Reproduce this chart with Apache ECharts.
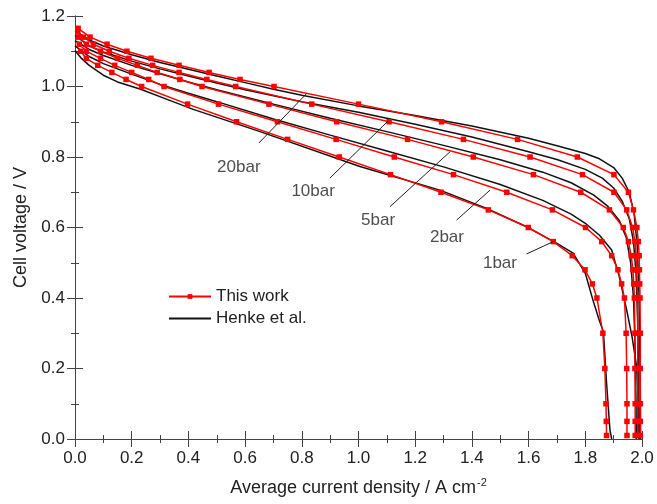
<!DOCTYPE html>
<html>
<head>
<meta charset="utf-8">
<script src="https://cdn.jsdelivr.net/npm/echarts@6/dist/echarts.min.js"></script>
<style>
html,body{margin:0;padding:0;background:#fff;}
#chart{width:657px;height:504px;}
</style>
</head>
<body>
<div id="chart"></div>
<script>
// ---- Data: [current density (A cm^-2), cell voltage (V)] ----
// This work (model, red with markers)
const work20bar = [[0.011,1.165],[0.053,1.14],[0.113,1.12],[0.183,1.10],[0.268,1.08],[0.367,1.06],[0.473,1.04],[0.582,1.02],[0.702,1.00],[1.000,0.95],[1.293,0.90],[1.561,0.85],[1.772,0.80],[1.901,0.75],[1.952,0.70],[1.970,0.65],[1.982,0.60],[1.987,0.56],[1.990,0.52],[1.991,0.48],[1.992,0.44],[1.993,0.40],[1.994,0.30],[1.994,0.20],[1.994,0.10],[1.994,0.05],[1.994,0.01]];
const work10bar = [[0.010,1.155],[0.030,1.14],[0.065,1.12],[0.121,1.10],[0.190,1.08],[0.274,1.06],[0.367,1.04],[0.465,1.02],[0.567,1.00],[0.835,0.95],[1.108,0.90],[1.370,0.85],[1.605,0.80],[1.790,0.75],[1.901,0.70],[1.946,0.65],[1.967,0.60],[1.975,0.56],[1.979,0.52],[1.981,0.48],[1.983,0.44],[1.984,0.40],[1.985,0.30],[1.985,0.20],[1.985,0.10],[1.985,0.05],[1.985,0.01]];
const work5bar = [[0.012,1.14],[0.040,1.12],[0.090,1.10],[0.150,1.08],[0.220,1.06],[0.290,1.04],[0.370,1.02],[0.448,1.00],[0.684,0.95],[0.923,0.90],[1.173,0.85],[1.405,0.80],[1.617,0.75],[1.784,0.70],[1.885,0.65],[1.934,0.60],[1.952,0.56],[1.962,0.52],[1.968,0.48],[1.971,0.44],[1.973,0.40],[1.975,0.30],[1.975,0.20],[1.976,0.10],[1.976,0.05],[1.976,0.01]];
const work2bar = [[0.015,1.12],[0.040,1.10],[0.090,1.08],[0.140,1.06],[0.200,1.04],[0.260,1.02],[0.314,1.00],[0.506,0.95],[0.714,0.90],[0.921,0.85],[1.126,0.80],[1.335,0.75],[1.523,0.70],[1.684,0.65],[1.801,0.60],[1.858,0.56],[1.893,0.52],[1.915,0.48],[1.928,0.44],[1.938,0.40],[1.944,0.30],[1.946,0.20],[1.947,0.10],[1.947,0.05],[1.947,0.01]];
const work1bar = [[0.020,1.10],[0.040,1.08],[0.080,1.06],[0.130,1.04],[0.180,1.02],[0.235,1.00],[0.397,0.95],[0.570,0.90],[0.750,0.85],[0.932,0.80],[1.113,0.75],[1.291,0.70],[1.458,0.65],[1.599,0.60],[1.687,0.56],[1.754,0.52],[1.799,0.48],[1.825,0.44],[1.841,0.40],[1.862,0.30],[1.869,0.20],[1.873,0.10],[1.874,0.05],[1.875,0.01]];

// Henke et al. (black lines)
const henke20bar = [[0.0,1.158],[0.05,1.132],[0.1,1.115],[0.2,1.090],[0.3,1.068],[0.4,1.049],[0.5,1.030],[0.6,1.011],[0.7,0.992],[0.8,0.975],[1.0,0.945],[1.2,0.918],[1.4,0.888],[1.6,0.853],[1.7,0.832],[1.8,0.810],[1.85,0.795],[1.9,0.770],[1.93,0.740],[1.955,0.700],[1.972,0.640],[1.983,0.550],[1.989,0.420],[1.992,0.280],[1.994,0.140],[1.995,0.0]];
const henke10bar = [[0.0,1.145],[0.05,1.115],[0.1,1.098],[0.2,1.072],[0.3,1.050],[0.4,1.030],[0.5,1.010],[0.6,0.991],[0.8,0.957],[1.0,0.927],[1.2,0.893],[1.4,0.857],[1.6,0.815],[1.7,0.793],[1.8,0.765],[1.86,0.740],[1.9,0.712],[1.93,0.675],[1.955,0.625],[1.970,0.560],[1.979,0.470],[1.985,0.330],[1.988,0.170],[1.989,0.0]];
const henke5bar = [[0.0,1.130],[0.05,1.105],[0.1,1.088],[0.2,1.060],[0.3,1.036],[0.4,1.013],[0.5,0.991],[0.7,0.950],[0.9,0.910],[1.1,0.872],[1.3,0.833],[1.5,0.792],[1.65,0.757],[1.75,0.727],[1.83,0.692],[1.88,0.660],[1.92,0.620],[1.945,0.570],[1.960,0.500],[1.970,0.400],[1.976,0.250],[1.979,0.100],[1.980,0.0]];
const henke2bar = [[0.0,1.115],[0.05,1.085],[0.1,1.065],[0.2,1.035],[0.3,1.006],[0.4,0.981],[0.5,0.957],[0.7,0.908],[0.9,0.862],[1.1,0.817],[1.3,0.772],[1.5,0.722],[1.65,0.677],[1.75,0.638],[1.80,0.612],[1.85,0.578],[1.893,0.536],[1.920,0.460],[1.946,0.366],[1.965,0.290],[1.981,0.205],[1.988,0.100],[1.992,0.0]];
const henke1bar = [[0.0,1.102],[0.02,1.082],[0.05,1.060],[0.1,1.032],[0.15,1.013],[0.229,0.993],[0.32,0.965],[0.417,0.935],[0.653,0.872],[1.005,0.773],[1.287,0.706],[1.45,0.655],[1.593,0.602],[1.70,0.555],[1.757,0.527],[1.80,0.470],[1.827,0.394],[1.850,0.335],[1.864,0.304],[1.875,0.159],[1.887,0.026],[1.893,0.0]];

// Annotations
const pressureLabels = ['20bar','10bar','5bar','2bar','1bar'];
const labelAt = [[0.578,0.772],[0.840,0.704],[1.069,0.621],[1.312,0.573],[1.499,0.499]];
const pointerFrom = [[0.649,0.840],[0.899,0.740],[1.111,0.659],[1.346,0.621],[1.593,0.525]];
const pointerTo = [[0.817,0.980],[1.104,0.902],[1.323,0.815],[1.464,0.706],[1.687,0.560]];

const xTicks = {min:0, max:2.0, interval:0.2};
const yTicks = {min:0, max:1.2, interval:0.2};

const FONT = '"Liberation Sans", Arial, sans-serif';
const TXT = '#222';
const AX = '#444';

const chart = echarts.init(document.getElementById('chart'), null, {renderer:'canvas'});

function axisCommon(showLabel){
  return {
    axisLine:{show:true, lineStyle:{color:AX, width:1}},
    axisTick:{show:true, inside:true, length:8, lineStyle:{color:AX, width:1}},
    minorTick:{show:true, splitNumber:2, length:4, lineStyle:{color:AX, width:1}},
    splitLine:{show:false},
    axisLabel:{show:showLabel, color:TXT, fontFamily:FONT, fontSize:17, formatter:(v)=>v.toFixed(1)}
  };
}

const redSeries = [work20bar, work10bar, work5bar, work2bar, work1bar].map(d => ({
  name:'This work', type:'line', data:d, xAxisIndex:0, yAxisIndex:0,
  symbol:'rect', symbolSize:5.5, showSymbol:true,
  lineStyle:{color:'#ff0000', width:1.5}, itemStyle:{color:'#ff0000'},
  z:3, animation:false
}));
const blackSeries = [henke20bar, henke10bar, henke5bar, henke2bar, henke1bar].map(d => ({
  name:'Henke et al.', type:'line', data:d, xAxisIndex:0, yAxisIndex:0,
  symbol:'none', showSymbol:false,
  lineStyle:{color:'#111', width:1.5}, itemStyle:{color:'#111'},
  z:2, animation:false
}));

const option = {
  backgroundColor:'#fff',
  animation:false,
  grid:{left:75, right:15, top:16, bottom:65},
  legend:{
    data:[
      {name:'This work'},
      {name:'Henke et al.', itemStyle:{color:'rgba(0,0,0,0)', borderWidth:0, opacity:0}}
    ],
    orient:'vertical', left:168, top:288, padding:0,
    itemWidth:42, itemHeight:6, itemGap:5,
    textStyle:{color:TXT, fontFamily:FONT, fontSize:17},
    selectedMode:false
  },
  xAxis:[
    Object.assign({type:'value', position:'bottom', min:xTicks.min, max:xTicks.max, interval:xTicks.interval,
      name:'{a|Average current density / A cm}{s|-2}', nameLocation:'middle', nameGap:38,
      nameTextStyle:{color:TXT, fontFamily:FONT, fontSize:18,
        rich:{a:{fontFamily:FONT, fontSize:18, color:TXT, lineHeight:22},
              s:{fontFamily:FONT, fontSize:11, color:TXT, verticalAlign:'top', lineHeight:22, padding:[0,0,8,1]}}}
    }, axisCommon(true), {axisLabel:Object.assign(axisCommon(true).axisLabel,{margin:11})}),
    Object.assign({type:'value', position:'top', min:xTicks.min, max:xTicks.max, interval:xTicks.interval}, axisCommon(false))
  ],
  yAxis:[
    Object.assign({type:'value', position:'left', min:yTicks.min, max:yTicks.max, interval:yTicks.interval,
      name:'Cell voltage / V', nameLocation:'middle', nameGap:44, nameRotate:90,
      nameTextStyle:{color:TXT, fontFamily:FONT, fontSize:18}
    }, axisCommon(true), {axisLabel:Object.assign(axisCommon(true).axisLabel,{margin:10})}),
    Object.assign({type:'value', position:'right', min:yTicks.min, max:yTicks.max, interval:yTicks.interval}, axisCommon(false))
  ],
  series: blackSeries.concat(redSeries).concat([
    {
      type:'lines', coordinateSystem:'cartesian2d', xAxisIndex:0, yAxisIndex:0,
      data: pointerFrom.map((p,i)=>({coords:[p, pointerTo[i]]})),
      lineStyle:{color:'#222', width:1, opacity:1}, silent:true, z:4, animation:false
    },
    {
      type:'scatter', xAxisIndex:0, yAxisIndex:0, symbolSize:0,
      data: labelAt.map((p,i)=>({name:pressureLabels[i], value:p})),
      label:{show:true, position:'inside', formatter:(p)=>p.name, color:TXT, fontFamily:FONT, fontSize:17},
      silent:true, z:5, animation:false
    }
  ])
};
chart.setOption(option);
</script>
</body>
</html>
